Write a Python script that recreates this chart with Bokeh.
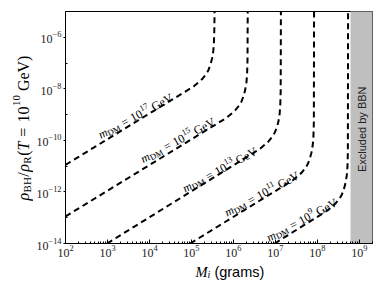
import math
import numpy as np
from bokeh.plotting import figure
from bokeh.models import Label, FixedTicker, Range1d
from bokeh.layouts import row, column
from bokeh.embed import file_html
from bokeh.resources import INLINE

# ---------------- data (log10 values) ----------------
m_dm_exponents = ["17", "15", "13", "11", "9"]

logM_17 = [2.0, 5.05, 5.25, 5.35, 5.40, 5.45, 5.49, 5.52, 5.535, 5.545, 5.55]
logrho_17 = [-10.95, -7.91, -7.63, -7.43, -7.29, -7.07, -6.83, -6.53, -6.22, -5.66, -5.0]

logM_15 = [2.0, 5.84, 6.04, 6.14, 6.19, 6.24, 6.28, 6.31, 6.325, 6.335, 6.34]
logrho_15 = [-12.95, -9.12, -8.84, -8.64, -8.50, -8.28, -8.04, -7.74, -7.43, -6.87, -5.0]

logM_13 = [2.99, 6.63, 6.83, 6.93, 6.98, 7.03, 7.07, 7.10, 7.115, 7.125, 7.13]
logrho_13 = [-14.0, -10.33, -10.05, -9.85, -9.71, -9.52, -9.28, -8.97, -8.64, -8.08, -5.0]

logM_11 = [4.97, 7.42, 7.62, 7.72, 7.77, 7.82, 7.86, 7.89, 7.905, 7.915, 7.92]
logrho_11 = [-14.0, -11.54, -11.26, -11.06, -10.92, -10.70, -10.46, -10.16, -9.85, -9.29, -5.0]

logM_9 = [6.98, 8.23, 8.43, 8.53, 8.58, 8.63, 8.67, 8.70, 8.715, 8.725, 8.73]
logrho_9 = [-14.0, -12.73, -12.45, -12.25, -12.11, -11.89, -11.65, -11.35, -11.04, -10.48, -5.0]

# where each curve label starts (log10 M, log10 rho)
label_logM = [2.80, 3.81, 4.81, 5.81, 6.81]
label_logrho = [-9.81, -10.75, -11.89, -12.83, -13.80]

bbn_mass_limit = 6.15e8          # grams, start of excluded band
x_min, x_max = 1e2, 2.05e9
y_min, y_max = 1e-14, 1e-5

x_major = [1e2, 1e3, 1e4, 1e5, 1e6, 1e7, 1e8, 1e9]
y_major = [1e-14, 1e-12, 1e-10, 1e-8, 1e-6]
y_minor = [1e-13, 1e-11, 1e-9, 1e-7, 1e-5]

# ---------------- layout sizes ----------------
YLAB_W = 33
MAIN_W, MAIN_H = 343, 261
XLAB_H = 27
TOTAL_H = MAIN_H + XLAB_H

# ---------------- main figure ----------------
p = figure(width=MAIN_W, height=MAIN_H, x_axis_type="log", y_axis_type="log",
           x_range=Range1d(x_min, x_max), y_range=Range1d(y_min, y_max),
           output_backend="svg", toolbar_location=None,
           min_border_left=28, min_border_right=4, min_border_top=11, min_border_bottom=18)
p.grid.visible = False
p.outline_line_color = "black"
p.outline_line_width = 1
p.background_fill_color = "white"
p.border_fill_color = "white"

x_minor = [k * d for d in x_major for k in range(2, 10) if k * d <= x_max]
p.xaxis.ticker = FixedTicker(ticks=x_major, minor_ticks=x_minor)
p.yaxis.ticker = FixedTicker(ticks=y_major, minor_ticks=y_minor)

for ax in (p.xaxis, p.yaxis):
    ax.major_label_text_font = "Liberation Serif"
    ax.major_label_text_font_size = "12px"
    ax.major_label_text_color = "#222222"
    ax.axis_line_color = "black"
    ax.major_tick_line_color = "black"
    ax.minor_tick_line_color = "black"
p.xaxis.major_tick_in = 4
p.xaxis.major_tick_out = 0
p.xaxis.minor_tick_in = 2
p.xaxis.minor_tick_out = 0
p.xaxis.major_label_standoff = 1
p.yaxis.major_tick_in = 0
p.yaxis.major_tick_out = 2
p.yaxis.minor_tick_in = 2
p.yaxis.minor_tick_out = 0
p.yaxis.major_label_standoff = 2

# excluded band
p.quad(left=[bbn_mass_limit], right=[x_max * 2], bottom=[y_min / 10], top=[y_max * 10],
       fill_color="#bfbfbf", line_color=None)

curves = [(logM_17, logrho_17), (logM_15, logrho_15), (logM_13, logrho_13),
          (logM_11, logrho_11), (logM_9, logrho_9)]
for lm, lr in curves:
    p.line(x=10 ** np.array(lm), y=10 ** np.array(lr), line_color="black",
           line_width=2, line_dash="6 4")

# ---------------- composed texts ----------------
SERIF = "Liberation Serif"
SANS = "Liberation Sans"
W_SERIF = {'=': .564, '0': .5, '1': .5, '3': .5, '5': .5, '7': .5, '9': .5,
           'G': .722, 'e': .444, 'V': .722, 'D': .722, 'M': .889, 'B': .667, 'H': .722,
           'R': .667, '(': .333, ')': .333, '/': .278}
W_ITAL = {'m': .722, 'T': .556, 'M': .833, 'i': .278, 'ρ': .5}
W_SANS = {'(': .333, ')': .333, 'g': .556, 'r': .333, 'a': .556, 'm': .833, 's': .5}


def text_width(t, size, font, style):
    if font == SANS:
        tab = W_SANS
    elif style == "italic":
        tab = W_ITAL
    else:
        tab = W_SERIF
    return sum(tab.get(ch, .5) for ch in t) * size


def compose(fig, x, y, pieces, angle, center=False):
    """pieces: (text, size, font, style, shift_down, gap_before)"""
    c, s = math.cos(angle), math.sin(angle)
    total = sum(g + text_width(t, sz, f, st) for t, sz, f, st, _, g in pieces)
    d = -total / 2 if center else 0.0
    for t, sz, f, st, shift, gap in pieces:
        d += gap
        xo = d * c + shift * s
        yo = d * s - shift * c
        fig.add_layout(Label(x=x, y=y, text=t,
                             text_font=f, text_font_size=f"{sz}px", text_font_style=st,
                             text_color="black", angle=angle, x_offset=xo, y_offset=yo,
                             text_align="left", text_baseline="alphabetic"))
        d += text_width(t, sz, f, st)


ang = math.radians(28)
for e, lx, ly in zip(m_dm_exponents, label_logM, label_logrho):
    compose(p, 10 ** lx, 10 ** ly,
            [("m", 12, SERIF, "italic", 0, 0), ("DM", 8.5, SERIF, "normal", 2.5, 0),
             ("=", 12, SERIF, "normal", 0, 3.5), ("10", 12, SERIF, "normal", 0, 3.5),
             (e, 8.5, SERIF, "normal", -4.5, 0.3), ("GeV", 12, SERIF, "normal", 0, 3)], ang)

# band text
p.add_layout(Label(x=math.sqrt(bbn_mass_limit * x_max), y=10 ** -9.57, text="Excluded by BBN",
                   text_font=SANS, text_font_size="11px", text_color="#222222",
                   angle=math.pi / 2, text_align="center", text_baseline="middle"))


def text_panel(w, h):
    f = figure(width=w, height=h, x_range=Range1d(0, w), y_range=Range1d(0, h),
               output_backend="svg", toolbar_location=None,
               x_axis_location=None, y_axis_location=None,
               min_border=0, min_border_left=0, min_border_right=0,
               min_border_top=0, min_border_bottom=0)
    f.grid.visible = False
    f.outline_line_color = None
    f.background_fill_color = "white"
    f.border_fill_color = "white"
    return f


# y axis label panel (pixel coordinates, origin bottom-left)
ylab = text_panel(YLAB_W, TOTAL_H)
compose(ylab, 22.5, TOTAL_H - 127.5,
        [("ρ", 16, SERIF, "italic", 0, 0), ("BH", 11, SERIF, "normal", 3.5, 0),
         ("/", 16, SERIF, "normal", 0, 0.5), ("ρ", 16, SERIF, "italic", 0, 0.5),
         ("R", 11, SERIF, "normal", 3.5, 0), ("(", 16, SERIF, "normal", 0, 0.5),
         ("T", 16, SERIF, "italic", 0, 0), ("=", 16, SERIF, "normal", 0, 5),
         ("10", 16, SERIF, "normal", 0, 5), ("10", 11, SERIF, "normal", -6.5, 0.5),
         ("GeV)", 16, SERIF, "normal", 0, 4)],
        math.pi / 2, center=True)

# x axis label panel
xlab = text_panel(MAIN_W, XLAB_H)
compose(xlab, 216.7 - YLAB_W, TOTAL_H - 271.0,
        [("M", 14.5, SERIF, "italic", 0, 0), ("i", 10, SERIF, "italic", 3, 0),
         ("(grams)", 14.5, SANS, "normal", 0, 4)], 0.0, center=True)

layout = row(ylab, column(p, xlab, spacing=0), spacing=0)
open("out.html", "w").write(file_html(layout, INLINE))
